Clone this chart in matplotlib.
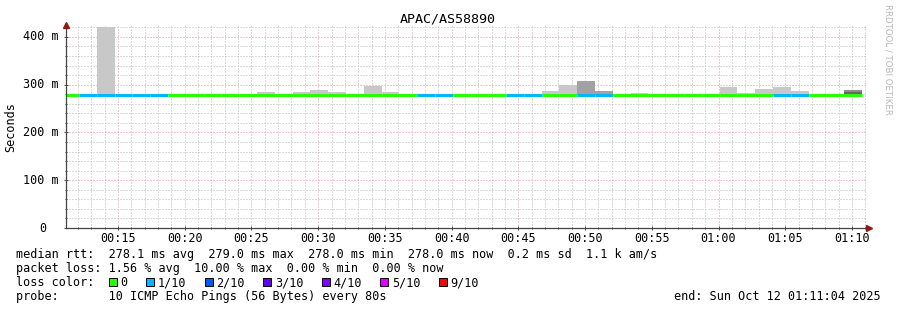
import numpy as np
import pandas as pd
import matplotlib
matplotlib.use("Agg")
import matplotlib.pyplot as plt
import matplotlib.dates as mdates
from matplotlib.patches import Rectangle

TITLE = "APAC/AS58890"
START = pd.Timestamp("2025-10-12 00:11:04")
END = pd.Timestamp("2025-10-12 01:11:04")
FIRST_EDGE = pd.Timestamp("2025-10-12 00:12:05")   # first full 80 s step
STEP_S = 80

# one value per 80 s step (first one is the partial step before FIRST_EDGE)
MEDIAN = [279, 278, 279, 278, 278, 278, 278, 278, 278, 278,
          278, 278, 278, 278, 278, 278, 278, 278, 279, 278,
          279, 278, 278, 278, 278, 278, 278, 278, 278, 278,
          278, 278, 278, 278, 278, 278, 278, 278, 278, 278,
          278, 278, 278, 278, 278]
LOSS = [0, 1, 1, 1, 1, 1, 0, 0, 0, 0,
        0, 0, 0, 0, 0, 0, 0, 0, 0, 0,
        1, 1, 0, 0, 0, 1, 1, 0, 0, 1,
        1, 0, 0, 0, 0, 0, 0, 0, 0, 0,
        1, 1, 0, 0, 0]
nan = np.nan
SMOKE_TOP = [nan, nan, 420, nan, nan, nan, nan, nan, nan, nan,
             nan, 285, nan, 285, 289, 285, nan, 298, 285, nan,
             nan, nan, nan, nan, nan, nan, nan, 287, 300, 308,
             287, nan, 283, nan, nan, nan, nan, 295, 283, 291,
             295, 287, nan, nan, 289]
SMOKE_INNER = [nan] * 17 + [281] + [nan] * 22 + [281] + [nan] * 3 + [285]
SMOKE_SHADE = ["light"] * 29 + ["mid", "mid"] + ["light"] * 13 + ["dark"]

LOSS_LEVELS = [0, 1, 2, 3, 4, 5, 9]
LOSS_LABELS = ["0", "1/10", "2/10", "3/10", "4/10", "5/10", "9/10"]
LOSS_COLORS = ["#26ff00", "#00b8ff", "#0059ff", "#5e00ff", "#7e00ff", "#dd00ff", "#ff0000"]

YTICKS = [0, 100, 200, 300, 400]
YTICK_LABELS = ["0", "100 m", "200 m", "300 m", "400 m"]

STATS_RTT = "median rtt:  278.1 ms avg  279.0 ms max  278.0 ms min  278.0 ms now  0.2 ms sd  1.1 k am/s"
STATS_LOSS = "packet loss: 1.56 % avg  10.00 % max  0.00 % min  0.00 % now"
PROBE = "probe:       10 ICMP Echo Pings (56 Bytes) every 80s"
END_TEXT = "end: Sun Oct 12 01:11:04 2025"

SHADES = {"light": "#c8c8c8", "mid": "#a2a2a2", "dark": "#8c8c8c"}
INNER_SHADES = {"light": "#b4b4b4", "mid": "#8c8c8c", "dark": "#666666"}
MINOR_GRID = "#b8b8b8"
MAJOR_GRID = "#e69494"
AXIS_COLOR = "#444444"
ARROW_COLOR = "#8b1a1a"
MONO = "DejaVu Sans Mono"
FS = 8.45

W, H = 897, 310


def fx(x):
    return x / W


def fy(y):
    return 1 - y / H


def main():
    n = len(MEDIAN)
    edges = [START] + [FIRST_EDGE + pd.Timedelta(seconds=STEP_S * k) for k in range(n)]
    edges = mdates.date2num(pd.DatetimeIndex(edges).to_pydatetime())
    left, right = edges[:-1], edges[1:]

    med = np.array(MEDIAN, dtype=float)
    top = np.array(SMOKE_TOP, dtype=float)
    inner = np.array(SMOKE_INNER, dtype=float)

    fig = plt.figure(figsize=(W / 100, H / 100), dpi=100)
    fig.patch.set_facecolor("white")
    ax = fig.add_axes([fx(65.5), 82 / H, 800.7 / W, 203 / H])
    ax.set_facecolor("white")

    x0 = mdates.date2num(START.to_pydatetime())
    x1 = mdates.date2num(END.to_pydatetime())
    ax.set_xlim(x0, x1)
    ax.set_ylim(0, 425)

    # grid: gray every minute / 20 m, red every 15 min / 100 m
    dot = (0, (1, 2))
    for t in pd.date_range("2025-10-12 00:12", "2025-10-12 01:11", freq="1min"):
        c = MAJOR_GRID if t.minute % 15 == 0 else MINOR_GRID
        ax.axvline(mdates.date2num(t.to_pydatetime()), color=c, lw=0.72, ls=dot, zorder=1)
    for v in range(20, 425, 20):
        c = MAJOR_GRID if v % 100 == 0 else MINOR_GRID
        ax.axhline(v, color=c, lw=0.72, ls=dot, zorder=1)

    # smoke
    ok = ~np.isnan(top)
    ax.bar(left[ok], (top - med)[ok], bottom=med[ok], width=(right - left)[ok],
           align="edge", color=[SHADES[s] for s, o in zip(SMOKE_SHADE, ok) if o],
           linewidth=0, zorder=2)
    ok = ~np.isnan(inner)
    ax.bar(left[ok], (inner - med)[ok], bottom=med[ok], width=(right - left)[ok],
           align="edge", color=[INNER_SHADES[s] for s, o in zip(SMOKE_SHADE, ok) if o],
           linewidth=0, zorder=3)

    # median line coloured by loss
    cmap = dict(zip(LOSS_LEVELS, LOSS_COLORS))
    lc = ax.hlines(med, left, right, colors=[cmap[l] for l in LOSS],
                   linewidth=2.16, zorder=4)
    lc.set_capstyle("butt")

    # axes
    for s in ["top", "right"]:
        ax.spines[s].set_visible(False)
    for s in ["left", "bottom"]:
        ax.spines[s].set_color(AXIS_COLOR)
        ax.spines[s].set_linewidth(0.9)
        ax.spines[s].set_zorder(5)
    ax.spines["bottom"].set_bounds(x0, x1 + (x1 - x0) * 0.004)

    ax.set_yticks(YTICKS)
    ax.set_yticks(range(20, 425, 20), minor=True)
    ax.set_yticklabels([])
    for v, lab in zip(YTICKS, YTICK_LABELS):
        xr = -0.024 if v == 0 else -0.009
        ax.text(xr, v, lab, transform=ax.get_yaxis_transform(), ha="right",
                va="center", family=MONO, fontsize=FS)

    ax.xaxis.set_major_locator(mdates.MinuteLocator(byminute=range(0, 60, 5)))
    ax.xaxis.set_minor_locator(mdates.MinuteLocator())
    ax.xaxis.set_major_formatter(mdates.DateFormatter("%H:%M"))
    ax.tick_params(axis="both", which="major", direction="inout", length=3,
                   width=0.7, color=AXIS_COLOR, labelsize=FS, pad=1.5)
    ax.tick_params(axis="both", which="minor", direction="inout", length=1.5,
                   width=0.7, color=AXIS_COLOR)
    for lab in ax.get_xticklabels():
        lab.set_family(MONO)

    # arrows
    ax.plot([0], [1.0], marker="^", ms=5, color=ARROW_COLOR, transform=ax.transAxes,
            clip_on=False, zorder=6)
    ax.plot([1.004], [0], marker=">", ms=5, color=ARROW_COLOR, transform=ax.transAxes,
            clip_on=False, zorder=6)

    # texts
    fig.text(fx(448), fy(19), TITLE, ha="center", va="center", family=MONO, fontsize=9.6)
    fig.text(fx(11), fy(127), "Seconds", ha="center", va="center", rotation=90,
             family=MONO, fontsize=FS)
    fig.text(fx(888), fy(59), "RRDTOOL / TOBI OETIKER", ha="center", va="center",
             rotation=270, fontsize=6.2, color="#b8b8b8")

    fig.text(fx(16), fy(254.5), STATS_RTT, ha="left", va="center", family=MONO, fontsize=FS)
    fig.text(fx(16), fy(268.5), STATS_LOSS, ha="left", va="center", family=MONO, fontsize=FS)
    fig.text(fx(16), fy(282.5), "loss color:", ha="left", va="center", family=MONO, fontsize=FS)
    fig.text(fx(16), fy(296.5), PROBE, ha="left", va="center", family=MONO, fontsize=FS)
    fig.text(fx(881), fy(296.5), END_TEXT, ha="right", va="center", family=MONO, fontsize=FS)

    bx = 108.5
    for lab, col in zip(LOSS_LABELS, LOSS_COLORS):
        fig.patches.append(Rectangle((fx(bx), fy(286)), 8 / W, 8 / H, transform=fig.transFigure,
                                     facecolor=col, edgecolor="black", linewidth=0.7))
        fig.text(fx(bx + 12), fy(282.5), lab, ha="left", va="center", family=MONO, fontsize=FS)
        bx += 12 + 7 * len(lab) + 18.5

    fig.savefig("out.png", dpi=100, facecolor="white")


if __name__ == "__main__":
    main()
